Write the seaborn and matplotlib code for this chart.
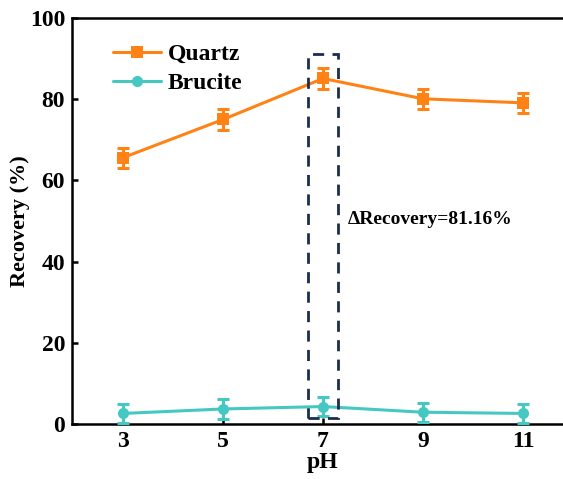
import matplotlib
matplotlib.use("Agg")
import matplotlib.pyplot as plt
import seaborn as sns
import pandas as pd
from matplotlib.patches import Rectangle

ph = [3, 5, 7, 9, 11]
quartz = [65.6, 75.0, 85.1, 80.1, 79.1]
quartz_err = [2.5, 2.5, 2.5, 2.5, 2.5]
brucite = [2.6, 3.7, 4.3, 2.9, 2.6]
brucite_err = [2.3, 2.5, 2.4, 2.3, 2.3]
series = ["Quartz", "Brucite"]
colors = ["#FF8214", "#45C8C2"]
xticks = [3, 5, 7, 9, 11]
yticks = [0, 20, 40, 60, 80, 100]
annot = "ΔRecovery=81.16%"

sns.set_style("ticks")
plt.rcParams['font.family'] = ['Liberation Serif', 'DejaVu Serif']
plt.rcParams['font.weight'] = 'bold'
plt.rcParams['text.color'] = 'black'
plt.rcParams['axes.labelcolor'] = 'black'
plt.rcParams['xtick.color'] = 'black'
plt.rcParams['ytick.color'] = 'black'
plt.rcParams['axes.edgecolor'] = 'black'

df = pd.DataFrame({
    "pH": ph * 2,
    "Recovery": quartz + brucite,
    "Mineral": [series[0]] * len(ph) + [series[1]] * len(ph),
})

fig = plt.figure(figsize=(5.63, 4.79), dpi=100)
ax = fig.add_axes([72 / 563, 1 - 424 / 479, 501 / 563, 406 / 479])

sns.lineplot(data=df, x="pH", y="Recovery", hue="Mineral", style="Mineral",
             palette=colors, markers=["s", "o"], dashes=False, linewidth=2.2,
             markersize=8, markeredgewidth=0, ax=ax)

for vals, errs, c in [(quartz, quartz_err, colors[0]), (brucite, brucite_err, colors[1])]:
    ax.errorbar(ph, vals, yerr=errs, fmt="none", ecolor=c, elinewidth=2.2,
                capsize=4, capthick=2.2, zorder=3)

ax.add_patch(Rectangle((6.7, 1.5), 0.6, 89.6, fill=False, edgecolor="#1C2D4F",
                       linestyle=(0, (4, 3)), linewidth=2, zorder=4))
ax.text(7.5, 50.3, annot, fontsize=14, fontweight="bold", va="center", ha="left")

ax.set_xlim(1.98, 12.0)
ax.set_ylim(0, 100)
ax.set_xticks(xticks)
ax.set_yticks(yticks)
ax.tick_params(direction="in", length=4.5, width=1.8, labelsize=17, pad=5)
for lab in ax.get_xticklabels() + ax.get_yticklabels():
    lab.set_fontweight("bold")
for s in ax.spines.values():
    s.set_linewidth(1.8)
ax.set_xlabel("pH", fontsize=17, fontweight="bold", labelpad=0)
ax.set_ylabel("Recovery (%)", fontsize=16, fontweight="bold", labelpad=0)

leg = ax.legend(loc="upper left", bbox_to_anchor=(0.04, 0.99), frameon=False,
                fontsize=17, handlelength=2.0, handletextpad=0.3, labelspacing=0.32)
for t in leg.get_texts():
    t.set_fontweight("bold")

fig.savefig("out.png", dpi=100)
